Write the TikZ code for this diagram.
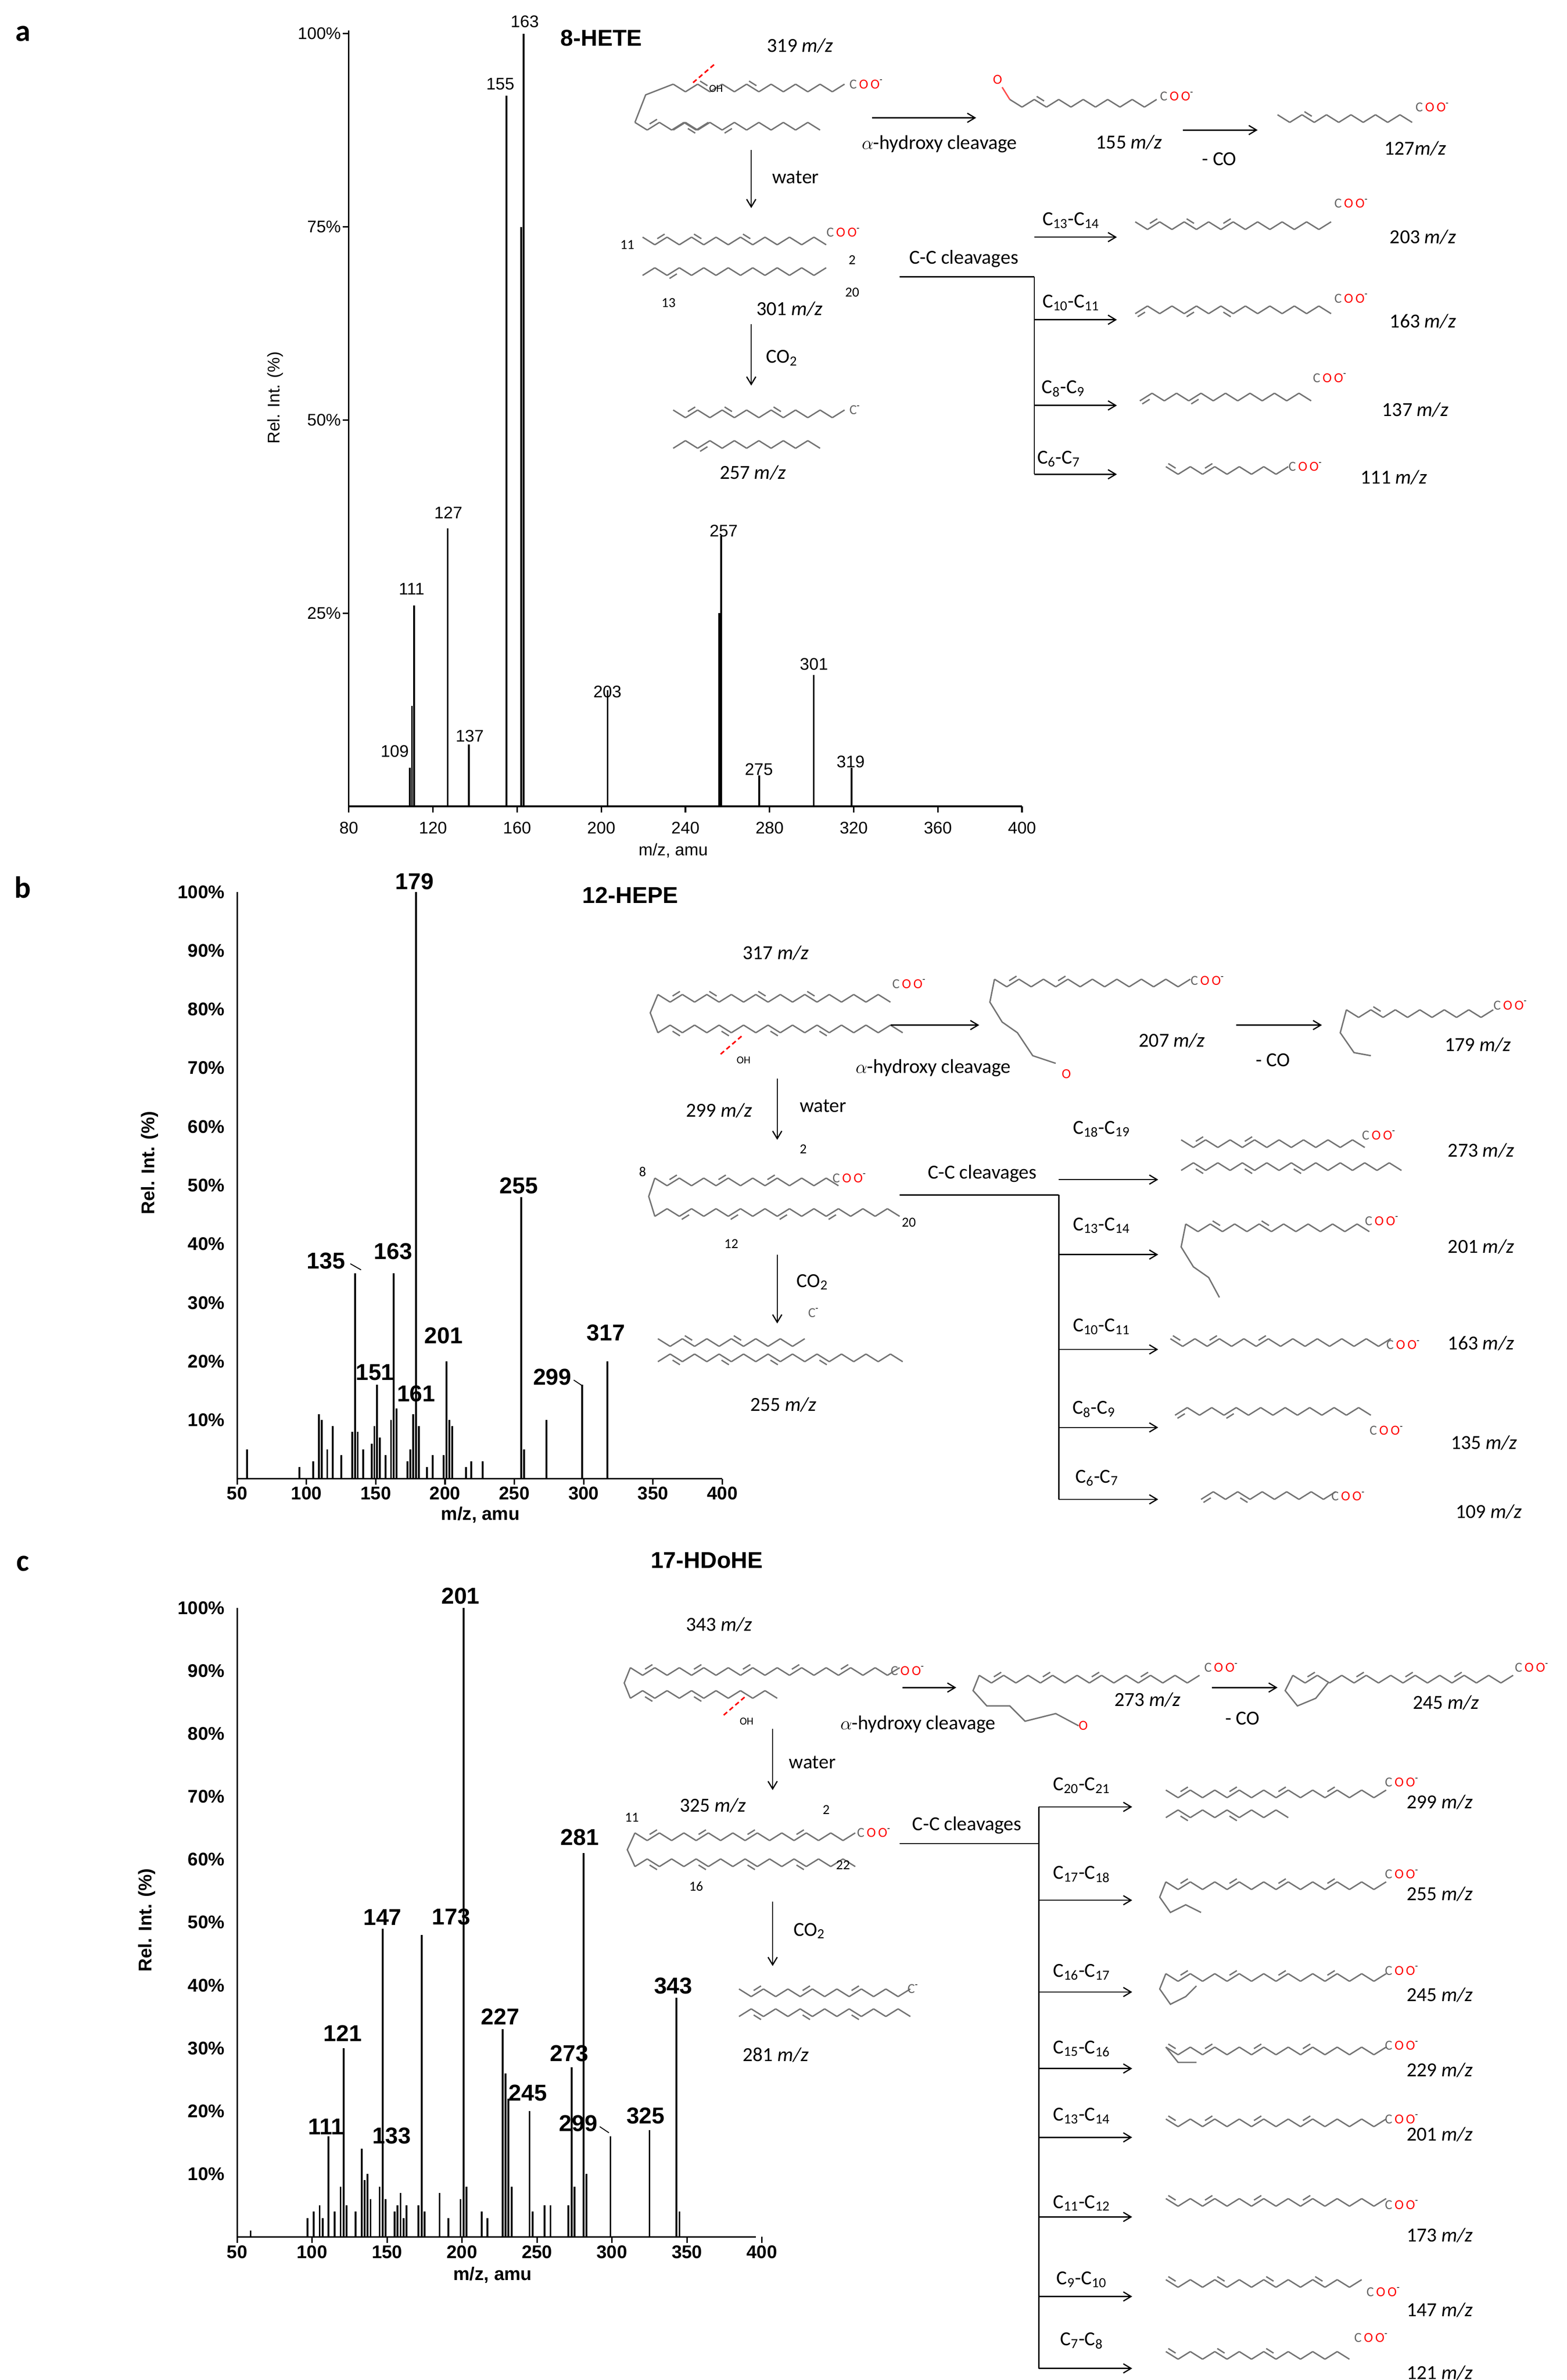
\documentclass[tikz,border=0pt]{standalone}
\usepackage{fontspec}
\setmainfont{Carlito}
\newfontfamily\specfont{Liberation Sans}
\usetikzlibrary{calc,arrows.meta}
\tikzset{
 bond/.style={draw=black!55,line width=0.9pt},
 spec/.style={line width=1.2pt},
 axis/.style={line width=1pt},
 arr/.style={-{Straight Barb[length=5pt,width=6pt]},line width=0.8pt},
 lab/.style={font=\fontsize{13}{15}\selectfont,inner sep=1pt},
 pk/.style={font=\specfont\fontsize{11}{13}\selectfont,inner sep=1pt},
 pkb/.style={font=\specfont\bfseries\fontsize{15}{17}\selectfont,inner sep=1pt},
 tick/.style={font=\specfont\fontsize{11}{13}\selectfont,inner sep=1pt},
 tickb/.style={font=\specfont\bfseries\fontsize{12}{14}\selectfont,inner sep=1pt},
 ttl/.style={font=\specfont\bfseries\fontsize{15}{17}\selectfont},
 letter/.style={font=\bfseries\fontsize{20}{22}\selectfont},
 coo/.style={font=\fontsize{9}{10}\selectfont,inner sep=0pt},
}
\newcommand\zz[5]{%
 \foreach \i in {1,...,#3}{%
  \pgfmathsetmacro\xa{#1+8*(\i-1)}\pgfmathsetmacro\xb{#1+8*\i}%
  \pgfmathsetmacro\ya{#2+#4*5*mod(\i-1,2)}\pgfmathsetmacro\yb{#2+#4*5*mod(\i,2)}%
  \draw[bond] (\xa,\ya)--(\xb,\yb);}%
 \foreach \j in {#5}{\ifnum\j>0
  \pgfmathsetmacro\xa{#1+8*(\j-1)}\pgfmathsetmacro\xb{#1+8*\j}%
  \pgfmathsetmacro\ya{#2+#4*5*mod(\j-1,2)-#4*3}\pgfmathsetmacro\yb{#2+#4*5*mod(\j,2)-#4*3}%
  \draw[bond] ($(\xa,\ya)!0.2!(\xb,\yb)$)--($(\xa,\ya)!0.8!(\xb,\yb)$);\fi}}
\newcommand\COO[2]{\node[coo,anchor=west] at (#1,#2) {{\color{black!60}C}\,{\color{red}O}\,{\color{red}O}\textsuperscript{-}};}
\newcommand\Cm[2]{\node[coo,anchor=west] at (#1,#2) {{\color{black!60}C}\textsuperscript{-}};}
\newcommand\OHmark[2]{\draw[red,densely dashed,line width=1pt] (#1-7,#2+6)--(#1+7,#2-6);\node[coo,font=\fontsize{7}{8}\selectfont] at (#1+8,#2+10) {OH};}
\newcommand\mz[1]{#1 \textit{m/z}}
\newcommand\CC[2]{C\textsubscript{#1}-C\textsubscript{#2}}
\begin{document}
\begin{tikzpicture}[x=1pt,y=-1pt]
\useasboundingbox (0,0) rectangle (1024,1555.6);
\fill[white] (0,0) rectangle (1024,1555.6);
% ================= PANEL A spectrum =================
\node[letter] at (15,22) {a};
\draw[axis] (228,20)--(228,527)--(668,527);
\foreach \v/\l in {0/80,1/120,2/160,3/200,4/240,5/280,6/320,7/360,8/400}{
 \draw[axis] ({228+55*\v},527)--++(0,4); \node[tick] at ({228+55*\v},541) {\l};}
\foreach \p/\l in {25/25\%,50/50\%,75/75\%,100/100\%}{
 \draw[axis] (228,{527-5.05*\p})--++(-4,0); \node[tick,anchor=east] at (224,{527-5.05*\p}) {\l};}
\node[tick,rotate=90] at (180,260) {Rel. Int. (\%)};
\node[tick] at (440,556) {m/z, amu};
\foreach \m/\h in {109/5,110/13,111/26,127/36,137/8,155/92,162/75,163/100,203/15,256/25,257/35,275/4,301/17,319/5}{
 \draw[spec] ({228+(\m-80)*1.375},527)--++(0,{-5.05*\h});}
\foreach \m/\x/\y in {109/258/491,111/269/385,127/293/335,137/307/481,155/327/55,163/343/14,203/397/452,257/473/347,275/496/503,301/532/434,319/556/498}{
 \node[pk] at (\x,\y) {\m};}
\node[ttl] at (393,25) {8-HETE};
% ================= PANEL A scheme =================
\node[lab] at (523,30) {\mz{319}};
\zz{440}{55}{14}{1}{3,7};\COO{555}{55}
\zz{415}{80}{6}{1}{2};\draw[bond](415,80)--(422,62)--(440,55);\zz{440}{85}{12}{-1}{2,5}
\OHmark{460}{48}
\draw[arr] (570,77)--(638,77);\node[lab] at (614,94) {$\alpha$-hydroxy cleavage};
\zz{660}{65}{12}{1}{3};\node[coo,red] at (652,52) {O};\draw[bond,red!70](655,57)--(660,65);\COO{758}{63}
\node[lab] at (738,93) {\mz{155}};
\draw[arr] (773,85)--(822,85);\node[lab] at (797,104) {- CO};
\zz{835}{75}{11}{1}{3};\COO{925}{70}
\node[lab] at (925,97) {127\textit{m/z}};
\draw[arr] (491,98)--(491,136);\node[lab] at (520,116) {water};
\node[coo] at (410,160) {11};\zz{420}{155}{15}{1}{2,5,9};\COO{540}{152}
\zz{420}{180}{15}{-1}{3};\node[coo] at (557,170) {2};\node[coo] at (437,198) {13};\node[coo] at (557,191) {20};
\node[lab] at (516,202) {\mz{301}};
\draw[arr] (491,212)--(491,252);\node[lab] at (511,234) {CO\textsubscript{2}};
\zz{440}{268}{14}{1}{2,5,9};\Cm{555}{268}\zz{440}{293}{12}{-1}{3}
\node[lab] at (492,309) {\mz{257}};
\node[lab] at (630,169) {C-C cleavages};
\draw[line width=0.8pt] (588,181)--(676,181);\draw[line width=0.8pt] (676,181)--(676,310);
\foreach \y in {155,209,265,310}{\draw[arr] (676,\y)--(730,\y);}
\node[lab] at (700,144) {\CC{13}{14}};\node[lab] at (700,198) {\CC{10}{11}};
\node[lab] at (695,254) {\CC{8}{9}};\node[lab] at (692,300) {\CC{6}{7}};
\zz{742}{145}{16}{1}{2,5,8};\COO{872}{133}\node[lab] at (930,155) {\mz{203}};
\zz{742}{205}{16}{-1}{1,5,8};\COO{872}{195}\node[lab] at (930,210) {\mz{163}};
\zz{745}{262}{14}{-1}{1,5};\COO{858}{247}\node[lab] at (925,268) {\mz{137}};
\zz{762}{305}{10}{1}{1,4};\COO{842}{305}\node[lab] at (911,312) {\mz{111}};
% ================= PANEL B spectrum =================
\node[letter] at (15,580) {b};
\draw[axis] (155,583)--(155,966.5)--(472,966.5);
\foreach \v in {50,100,...,400}{\draw[axis] ({155+(\v-50)*0.906},966.5)--++(0,4);\node[tickb] at ({155+(\v-50)*0.906},976) {\v};}
\foreach \p in {10,20,...,100}{\node[tickb,anchor=east] at (148,{966.5-3.835*\p}) {\p\%};}
\node[tickb,rotate=90] at (98,760) {Rel. Int. (\%)};
\node[tickb] at (314,990) {m/z, amu};
\foreach \m/\h in {57/5,95/2,105/3,109/11,111/10,115/5,119/9,125/4,133/8,135/35,137/8,141/5,147/6,149/9,151/16,153/7,157/4,161/10,163/35,165/12,173/3,175/5,177/11,179/100,181/9,187/2,191/4,199/4,201/20,203/10,205/9,215/2,219/3,227/3,255/48,257/5,273/10,299/16,317/20}{
 \draw[spec] ({155+(\m-50)*0.906},966.5)--++(0,{-3.835*\h});}
\foreach \m/\x/\y in {179/271/576,255/339/775,135/213/824,163/257/818,317/396/871,299/361/900,201/290/873,151/245/897,161/272/911}{\node[pkb] at (\x,\y) {\m};}
\draw[line width=0.6pt] (229,826)--(236,830);\draw[line width=0.6pt] (375,902)--(381,906);
\node[ttl] at (412,585) {12-HEPE};
% ================= PANEL B scheme =================
\node[lab] at (507,623) {\mz{317}};
\zz{430}{650}{19}{1}{2,5,9,13};\COO{583}{643}
\zz{430}{675}{20}{-1}{2,6,10,14};\draw[bond] (430,650)--(425,662)--(430,675);
\OHmark{478}{683}
\draw[arr] (582,670)--(640,670);\node[lab] at (610,698) {$\alpha$-hydroxy cleavage};
\zz{650}{640}{16}{1}{2,6};\COO{778}{641}
\draw[bond] (650,640)--(647,655)--(655,668)--(665,675)--(675,690)--(690,695);\node[coo,red] at (697,702) {O};
\node[lab] at (766,680) {\mz{207}};
\draw[arr] (808,670)--(864,670);\node[lab] at (832,693) {- CO};
\zz{880}{660}{12}{1}{3};\draw[bond](880,660)--(876,675)--(885,688)--(896,690);\COO{976}{657}
\node[lab] at (966,683) {\mz{179}};
\draw[arr] (508,705)--(508,745);\node[lab] at (538,723) {water};
\node[lab] at (470,726) {\mz{299}};\node[coo] at (525,751) {2};
\zz{428}{770}{15}{1}{2,6,10};\COO{544}{770}
\zz{428}{795}{20}{-1}{3,7,11,15};\draw[bond](428,770)--(424,782)--(428,795);
\node[coo] at (420,766) {8};\node[coo] at (478,813) {12};\node[coo] at (594,799) {20};
\draw[arr] (508,820)--(508,865);\node[lab] at (531,838) {CO\textsubscript{2}};
\zz{430}{875}{12}{1}{3,7};\Cm{528}{858}\zz{430}{890}{20}{-1}{2,6,10,14}
\node[lab] at (512,918) {\mz{255}};
\node[lab] at (642,767) {C-C cleavages};
\draw[line width=0.8pt] (588,781)--(692,781);\draw[line width=0.8pt] (692,781)--(692,980);
\foreach \y in {771,820,882,933,980}{\draw[arr] (692,\y)--(757,\y);}
\node[lab] at (720,738) {\CC{18}{19}};\node[lab] at (720,801) {\CC{13}{14}};
\node[lab] at (720,867) {\CC{10}{11}};\node[lab] at (715,921) {\CC{8}{9}};\node[lab] at (717,966) {\CC{6}{7}};
\zz{772}{745}{15}{1}{2,6};\COO{890}{742}\zz{772}{765}{18}{-1}{2,6,10}
\node[lab] at (968,752) {\mz{273}};
\zz{775}{800}{15}{1}{3,7};\COO{892}{798}\draw[bond](775,800)--(772,815)--(780,828)--(790,835)--(797,848);
\node[lab] at (968,815) {\mz{201}};
\zz{765}{875}{18}{1}{1,4,8};\COO{906}{879}\node[lab] at (968,878) {\mz{163}};
\zz{768}{925}{16}{-1}{1,5};\COO{895}{935}\node[lab] at (970,943) {\mz{135}};
\zz{785}{980}{11}{-1}{1,4};\COO{870}{978}\node[lab] at (973,988) {\mz{109}};
% ================= PANEL C spectrum =================
\node[letter] at (15,1022) {c};
\draw[axis] (155,1051)--(155,1462)--(494,1462);
\foreach \v in {50,100,...,400}{\draw[axis] ({155+(\v-50)*0.98},1462)--++(0,4);\node[tickb] at ({155+(\v-50)*0.98},1472) {\v};}
\foreach \p in {10,20,...,100}{\node[tickb,anchor=east] at (148,{1462-4.11*\p}) {\p\%};}
\node[tickb,rotate=90] at (96,1255) {Rel. Int. (\%)};
\node[tickb] at (322,1487) {m/z, amu};
\foreach \m/\h in {59/1,97/3,101/4,105/5,107/3,111/16,115/4,119/8,121/30,123/5,129/4,133/14,135/9,137/10,139/6,145/8,147/49,149/6,155/4,157/5,159/7,161/3,163/5,171/5,173/48,175/4,185/7,191/3,199/6,201/100,203/8,213/4,217/3,227/33,229/26,231/22,233/8,245/20,247/4,255/5,259/5,271/5,273/27,275/8,281/61,283/10,299/16,325/17,343/38,345/4}{
 \draw[spec] ({155+(\m-50)*0.98},1462)--++(0,{-4.11*\h});}
\foreach \m/\x/\y in {201/301/1043,281/379/1201,147/250/1253,173/295/1253,343/440/1298,121/224/1329,227/327/1318,273/372/1342,245/345/1368,111/213/1390,133/256/1396,299/378/1388,325/422/1383}{\node[pkb] at (\x,\y) {\m};}
\draw[line width=0.6pt] (392,1390)--(398,1394);
\node[ttl] at (462,1020) {17-HDoHE};
% ================= PANEL C scheme =================
\node[lab] at (470,1062) {\mz{343}};
\zz{412}{1090}{22}{1}{2,6,10,14,18};\COO{582}{1092}
\zz{412}{1110}{12}{-1}{2,6};\draw[bond](412,1090)--(408,1100)--(412,1110);
\OHmark{480}{1115}
\draw[arr] (590,1103)--(625,1103);\node[lab] at (600,1127) {$\alpha$-hydroxy cleavage};
\zz{640}{1095}{18}{1}{2,6,10,14};\COO{787}{1090}
\draw[bond](640,1095)--(636,1105)--(645,1115)--(660,1115)--(670,1125)--(690,1120)--(705,1128);\node[coo,red] at (708,1128) {O};
\node[lab] at (750,1111) {\mz{273}};
\draw[arr] (792,1103)--(835,1103);\node[lab] at (812,1123) {- CO};
\zz{845}{1095}{18}{1}{2,6,10,14};\COO{990}{1090}
\draw[bond](845,1095)--(840,1105)--(848,1115)--(860,1110)--(868,1100);
\node[lab] at (945,1113) {\mz{245}};
\draw[arr] (505,1130)--(505,1170);\node[lab] at (531,1152) {water};
\node[lab] at (466,1180) {\mz{325}};\node[coo] at (540,1183) {2};\node[coo] at (413,1188) {11};
\zz{415}{1198}{18}{1}{2,6,10,14};\COO{560}{1198}
\zz{415}{1220}{18}{-1}{2,6,10,14};\draw[bond](415,1198)--(410,1209)--(415,1220);
\node[coo] at (455,1233) {16};\node[coo] at (551,1219) {22};
\draw[arr] (505,1243)--(505,1285);\node[lab] at (529,1262) {CO\textsubscript{2}};
\zz{483}{1300}{14}{1}{2,6,10};\Cm{593}{1300}\zz{483}{1318}{14}{-1}{2,6,10}
\node[lab] at (507,1343) {\mz{281}};
\node[lab] at (632,1193) {C-C cleavages};
\draw[line width=0.8pt] (588,1205)--(679,1205);\draw[line width=0.8pt] (679,1181)--(679,1548);
\foreach \y in {1181,1242,1302,1352,1397,1449,1501,1548}{\draw[arr] (679,\y)--(740,\y);}
\foreach \a/\b/\y in {20/21/1167,17/18/1225,16/17/1289,15/16/1339,13/14/1383,11/12/1440,9/10/1490,7/8/1530}{\node[lab] at (707,\y) {\CC{\a}{\b}};}
\foreach \y/\t in {1178/299,1238/255,1304/245,1353/229,1395/201,1461/173,1510/147,1551/121}{\node[lab] at (941,\y) {\mz{\t}};}
\zz{762}{1170}{18}{1}{2,6,10,14};\COO{905}{1165}\zz{762}{1188}{10}{-1}{2,6}
\zz{762}{1230}{18}{1}{2,6,10,14};\COO{905}{1225}\draw[bond](762,1230)--(758,1240)--(765,1250)--(775,1245)--(785,1250);
\zz{762}{1290}{18}{1}{2,6,10,14};\COO{905}{1288}\draw[bond](762,1290)--(758,1300)--(765,1310)--(775,1305)--(782,1298);
\zz{762}{1338}{18}{1}{1,4,8,12};\COO{905}{1337}\draw[bond](762,1338)--(770,1348)--(782,1348);
\zz{762}{1385}{18}{1}{1,4,8,12};\COO{905}{1385}
\zz{762}{1437}{18}{1}{1,4,8,12};\COO{905}{1441}
\zz{762}{1490}{16}{1}{1,5,9,13};\COO{893}{1498}
\zz{762}{1537}{15}{1}{1,5,9};\COO{885}{1528}
\end{tikzpicture}
\end{document}
